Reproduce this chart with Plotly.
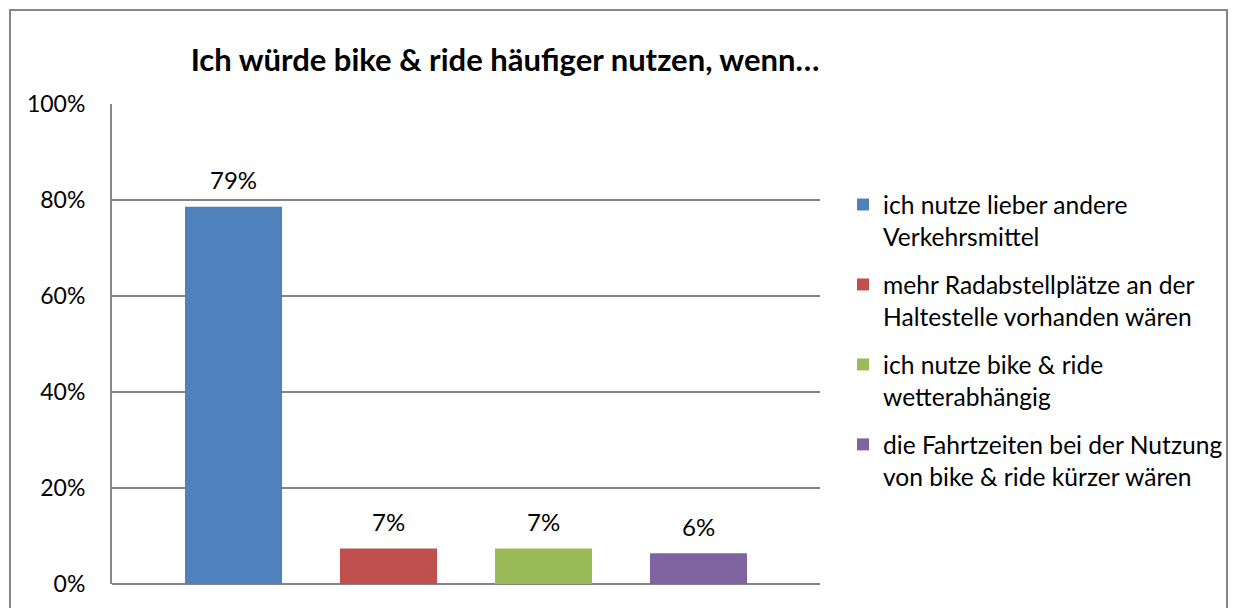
import plotly.graph_objects as go

# Survey answers and their shares
categories = [
    "ich nutze lieber andere<br>Verkehrsmittel",
    "mehr Radabstellplätze an der<br>Haltestelle vorhanden wären",
    "ich nutze bike & ride<br>wetterabhängig",
    "die Fahrtzeiten bei der Nutzung<br>von bike & ride kürzer wären",
]
shares = [0.786, 0.074, 0.074, 0.064]
colors = ["#4F81BD", "#C0504D", "#9BBB59", "#8064A2"]
y_ticks = [0, 0.2, 0.4, 0.6, 0.8, 1.0]
y_tick_labels = ["0%", "20%", "40%", "60%", "80%", "100%"]

FONT = "Lato"
GRID = "#868686"

fig = go.Figure()
for i, (name, val, col) in enumerate(zip(categories, shares, colors)):
    fig.add_trace(go.Bar(
        x=[i], y=[val], name=name, width=0.626,
        marker=dict(color=col, line=dict(width=0)),
        legendgroup=f"g{i}",
        hoverinfo="skip",
    ))
    fig.add_annotation(
        x=i, y=val, text=f"{val:.0%}", showarrow=False,
        yshift=27, font=dict(family=FONT, size=24, color="#000000"),
    )

W, H = 1238, 608
L, R, T, B = 112, 418, 104, 24
pw, ph = W - L - R, H - T - B

def px_x(p):
    return (p - L) / pw

def px_y(p):
    return (H - B - p) / ph

# outer chart frame
fig.add_shape(
    type="rect", xref="paper", yref="paper",
    x0=px_x(10), x1=px_x(1227), y0=px_y(640), y1=px_y(10),
    line=dict(color=GRID, width=2), fillcolor="rgba(0,0,0,0)", layer="below",
)

fig.update_layout(
    width=W, height=H,
    margin=dict(l=L, r=R, t=T, b=B, autoexpand=False),
    paper_bgcolor="white", plot_bgcolor="white",
    barmode="overlay",
    title=dict(
        text="<b>Ich würde bike & ride häufiger nutzen, wenn…</b>",
        xref="container", yref="container",
        x=505 / W, y=1 - 60 / H, xanchor="center", yanchor="middle",
        font=dict(family=FONT, size=31, color="#000000"),
    ),
    xaxis=dict(
        range=[-0.784, 3.784], showticklabels=False, showgrid=False,
        zeroline=False, showline=False, fixedrange=True,
    ),
    yaxis=dict(
        range=[0, 1], tickvals=y_ticks, ticktext=y_tick_labels,
        showgrid=True, gridcolor=GRID, gridwidth=2,
        zeroline=True, zerolinecolor=GRID, zerolinewidth=2,
        showline=True, linecolor=GRID, linewidth=2,
        ticks="", ticklabelstandoff=20,
        tickfont=dict(family=FONT, size=23, color="#000000"),
    ),
    legend=dict(
        x=px_x(843), y=px_y(182), xanchor="left", yanchor="top",
        traceorder="grouped", tracegroupgap=13, valign="top",
        font=dict(family=FONT, size=24.6, color="#000000"),
        itemwidth=30, bgcolor="rgba(0,0,0,0)",
    ),
    showlegend=True,
)

fig.write_html("out.html")
